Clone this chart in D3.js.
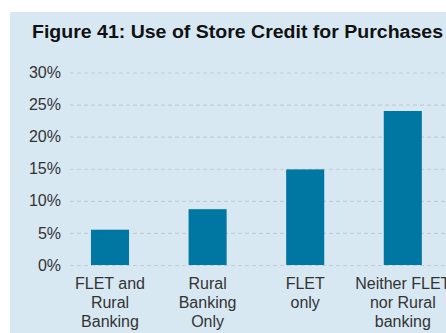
<!DOCTYPE html>
<html>
<head>
<meta charset="utf-8">
<script src="https://cdn.jsdelivr.net/npm/d3@7/dist/d3.min.js"></script>
<style>
  html, body { margin: 0; padding: 0; background: #ffffff; }
  svg { display: block; }
</style>
</head>
<body>
<svg id="chart" width="446" height="333"></svg>
<script>
// Store credit use by group
const categories = [
  ["FLET and", "Rural", "Banking"],
  ["Rural", "Banking", "Only"],
  ["FLET", "only"],
  ["Neither FLET", "nor Rural", "banking"]
];
const values = [5.5, 8.7, 14.9, 24.0];
const tickValues = [0, 5, 10, 15, 20, 25, 30];
const titleText = "Figure 41: Use of Store Credit for Purchases";

const svg = d3.select("#chart");
const W = 446, H = 333;

// panel background
svg.append("rect")
  .attr("x", 10).attr("y", 12)
  .attr("width", W - 10).attr("height", H - 12)
  .attr("fill", "#d7e8f2");

svg.append("text")
  .attr("x", 32).attr("y", 37.5)
  .attr("font-family", "Liberation Sans, Arial, sans-serif")
  .attr("font-weight", "bold")
  .attr("font-size", 17.5)
  .attr("textLength", 411)
  .attr("lengthAdjust", "spacingAndGlyphs")
  .attr("fill", "#111")
  .text(titleText);

const y = d3.scaleLinear().domain([0, 30]).range([265, 72.5]);
const x = d3.scaleBand()
  .domain(d3.range(categories.length))
  .range([61.2, 61.2 + 4 * 97.6])
  .paddingInner(0.61)
  .paddingOuter(0.305);

// dashed gridlines with percent labels
const yAxis = d3.axisLeft(y)
  .tickValues(tickValues)
  .tickFormat(d => d + "%")
  .tickSize(-(W - 70))
  .tickPadding(9);

const gAxis = svg.append("g")
  .attr("transform", "translate(70,0)")
  .call(yAxis);
gAxis.select(".domain").remove();
gAxis.selectAll(".tick line")
  .attr("stroke", "#c2cdd3")
  .attr("stroke-width", 1.2)
  .attr("stroke-dasharray", "4,3");
gAxis.selectAll(".tick text")
  .attr("font-family", "Liberation Sans, Arial, sans-serif")
  .attr("font-size", 16)
  .attr("fill", "#333");

// bars
svg.append("g").selectAll("rect")
  .data(values)
  .join("rect")
  .attr("x", (d, i) => x(i))
  .attr("width", x.bandwidth())
  .attr("y", d => y(d))
  .attr("height", d => y(0) - y(d))
  .attr("fill", "#0077a3");

// category labels
const labels = svg.append("g")
  .attr("font-family", "Liberation Sans, Arial, sans-serif")
  .attr("font-size", 16)
  .attr("fill", "#333")
  .attr("text-anchor", "middle");
categories.forEach((lines, i) => {
  const t = labels.append("text")
    .attr("x", x(i) + x.bandwidth() / 2)
    .attr("y", 288.5);
  lines.forEach((ln, j) => {
    t.append("tspan")
      .attr("x", x(i) + x.bandwidth() / 2)
      .attr("dy", j === 0 ? 0 : 19)
      .text(ln);
  });
});
</script>
</body>
</html>
